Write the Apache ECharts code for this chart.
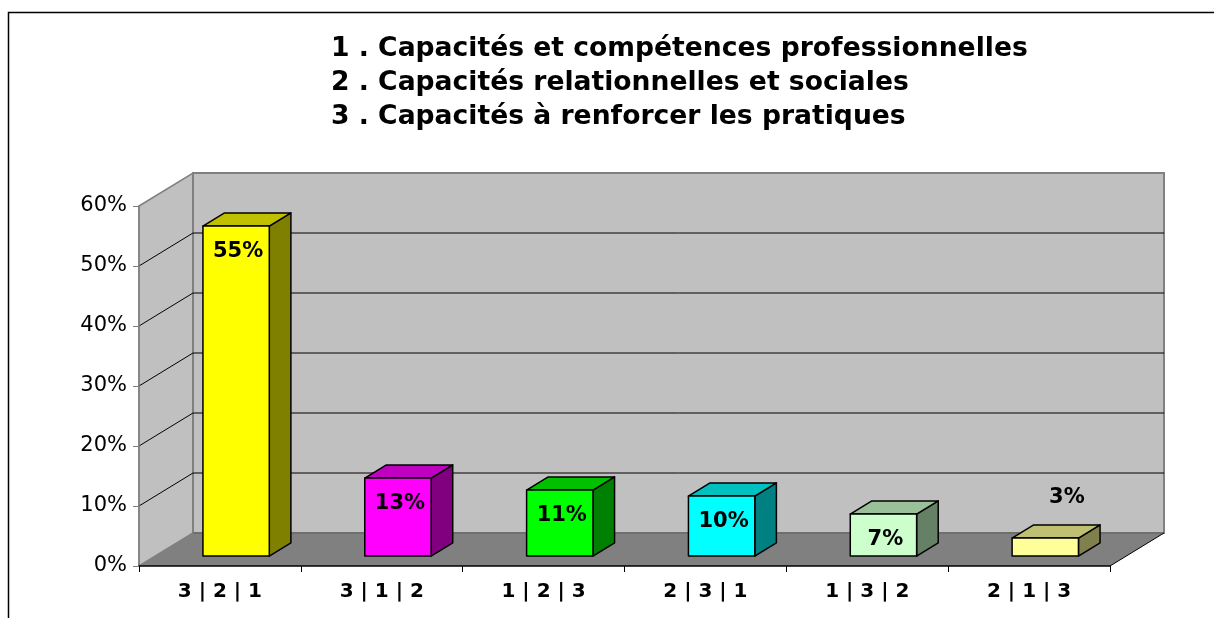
<!DOCTYPE html>
<html>
<head>
<meta charset="utf-8">
<style>
  html, body { margin: 0; padding: 0; background: #fff; }
  #chart { width: 1214px; height: 618px; }
</style>
<script src="https://cdn.jsdelivr.net/npm/echarts@6/dist/echarts.min.js"></script>
</head>
<body>
<div id="chart"></div>
<script>
// chart data
const titleLines = [
  '1 . Capacités et compétences professionnelles',
  '2 . Capacités relationnelles et sociales',
  '3 . Capacités à renforcer les pratiques'
];
const categories = ['3 | 2 | 1', '3 | 1 | 2', '1 | 2 | 3', '2 | 3 | 1', '1 | 3 | 2', '2 | 1 | 3'];
const shares = [55, 13, 11, 10, 7, 3];
const yMin = 0, yMax = 60, yStep = 10;

// bar face colours (front / top / side)
const frontColors = ['#ffff00', '#ff00ff', '#00ff00', '#00ffff', '#ccffcc', '#ffff99'];
const topColors = ['#c0c000', '#c000c0', '#00c000', '#00c0c0', '#99c099', '#c0c073'];
const sideColors = ['#808000', '#800080', '#008000', '#008080', '#668066', '#80804d'];

const FONT = '"DejaVu Sans", "Liberation Sans", sans-serif';

// fake 3d: offset from the front plane to the back wall, in px
const DEPTH = [54, -33];
const BAR_FROM = 0.3, BAR_TO = 0.7, BAR_WIDTH = 0.41;

const chart = echarts.init(document.getElementById('chart'));

// walls, floor and gridlines drawn behind the bars
function renderWalls(params, api) {
  const cs = params.coordSys;
  const x0 = cs.x, x1 = cs.x + cs.width;
  const y0 = api.coord([0, yMin])[1];
  const yTop = api.coord([0, yMax])[1];
  const [dx, dy] = DEPTH;
  const children = [
    {
      type: 'polygon',
      shape: { points: [[x0, yTop], [x0 + dx, yTop + dy], [x0 + dx, y0 + dy], [x0, y0]] },
      style: { fill: '#c0c0c0', stroke: '#808080', lineWidth: 1.5 }
    },
    {
      type: 'rect',
      shape: { x: x0 + dx, y: yTop + dy, width: cs.width, height: y0 - yTop },
      style: { fill: '#c0c0c0', stroke: '#808080', lineWidth: 2 }
    }
  ];
  for (let v = yMin + yStep; v < yMax; v += yStep) {
    const y = api.coord([0, v])[1];
    children.push({
      type: 'polyline',
      shape: { points: [[x0, y], [x0 + dx, y + dy], [x1 + dx, y + dy]] },
      style: { stroke: '#000', lineWidth: 1, fill: null }
    });
  }
  children.push({
    type: 'polygon',
    shape: { points: [[x0, y0], [x1, y0], [x1 + dx, y0 + dy], [x0 + dx, y0 + dy]] },
    style: { fill: '#808080', stroke: null }
  });
  children.push({
    type: 'line',
    shape: { x1: x0 + dx, y1: y0 + dy, x2: x1 + dx, y2: y0 + dy },
    style: { stroke: '#6a6a6a', lineWidth: 1.5 }
  });
  children.push({
    type: 'line',
    shape: { x1: x1, y1: y0, x2: x1 + dx, y2: y0 + dy },
    style: { stroke: '#000', lineWidth: 1 }
  });
  return { type: 'group', children: children };
}

function renderBar(params, api) {
  const idx = api.value(0);
  const val = api.value(1);
  const base = api.coord([idx, 0]);
  const peak = api.coord([idx, val]);
  const band = api.size([1, 0])[0];
  const w = band * BAR_WIDTH;
  const ox = DEPTH[0] * BAR_FROM, oy = DEPTH[1] * BAR_FROM;
  const dx = DEPTH[0] * (BAR_TO - BAR_FROM), dy = DEPTH[1] * (BAR_TO - BAR_FROM);
  const l = base[0] + ox - w / 2, r = l + w;
  const b = base[1] + oy, t = peak[1] + oy;
  const edge = { stroke: '#000', lineWidth: 1.5, lineJoin: 'round' };
  const i = params.dataIndex;
  // short bars get their label above the box
  const inside = (b - t) > 30;
  const labelX = (l + r) / 2 + (inside ? 2 : dx);
  const labelY = inside ? t + 25 : t - 41;
  return {
    type: 'group',
    children: [
      {
        type: 'polygon',
        shape: { points: [[r, t], [r + dx, t + dy], [r + dx, b + dy], [r, b]] },
        style: Object.assign({ fill: sideColors[i] }, edge)
      },
      {
        type: 'polygon',
        shape: { points: [[l, t], [r, t], [r + dx, t + dy], [l + dx, t + dy]] },
        style: Object.assign({ fill: topColors[i] }, edge)
      },
      {
        type: 'rect',
        shape: { x: l, y: t, width: w, height: b - t },
        style: Object.assign({ fill: frontColors[i] }, edge)
      },
      {
        type: 'text',
        style: {
          text: val + '%',
          x: labelX,
          y: labelY,
          align: 'center',
          verticalAlign: 'middle',
          font: 'bold 21px ' + FONT,
          fill: '#000'
        }
      }
    ]
  };
}

const option = {
  animation: false,
  backgroundColor: '#fff',
  title: {
    text: titleLines.join('\n'),
    left: 331,
    top: 32,
    padding: 0,
    textStyle: {
      fontFamily: FONT,
      fontWeight: 'bold',
      fontSize: 26.6,
      lineHeight: 34,
      color: '#000'
    }
  },
  graphic: [
    {
      type: 'rect',
      shape: { x: 8.5, y: 12.5, width: 1300, height: 700 },
      style: { fill: null, stroke: '#000', lineWidth: 1.5 },
      silent: true,
      z: 0
    }
  ],
  grid: {
    left: 139,
    right: 104,
    top: 206,
    bottom: 52
  },
  xAxis: {
    type: 'category',
    data: categories,
    z: 10,
    axisLine: { lineStyle: { color: '#000', width: 1.5 } },
    axisTick: { show: true, length: 6, lineStyle: { color: '#000' } },
    axisLabel: {
      interval: 0,
      margin: 16,
      color: '#000',
      fontFamily: FONT,
      fontWeight: 'bold',
      fontSize: 20
    },
    splitLine: { show: false }
  },
  yAxis: {
    type: 'value',
    min: yMin,
    max: yMax,
    interval: yStep,
    z: 10,
    axisLine: { show: true, lineStyle: { color: '#808080', width: 1.5 } },
    axisTick: { show: true, length: 6, lineStyle: { color: '#808080' } },
    axisLabel: {
      formatter: '{value}%',
      margin: 12,
      color: '#000',
      fontFamily: FONT,
      fontSize: 21
    },
    splitLine: { show: false }
  },
  series: [
    {
      type: 'custom',
      name: 'walls',
      renderItem: renderWalls,
      data: [[0, 0]],
      clip: false,
      silent: true,
      z: 1
    },
    {
      type: 'custom',
      name: 'shares',
      renderItem: renderBar,
      data: shares.map((v, i) => [i, v]),
      clip: false,
      z: 3
    }
  ]
};

chart.setOption(option);
</script>
</body>
</html>
